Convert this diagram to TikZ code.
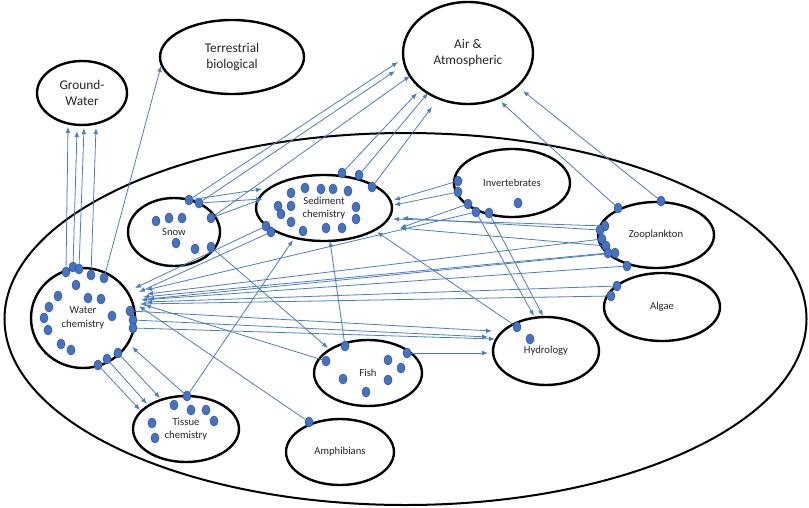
\documentclass[tikz,border=0pt]{standalone}
\usepackage{fontspec}
\setmainfont{Carlito}
\usetikzlibrary{shapes.geometric,arrows.meta}
\definecolor{linkblue}{RGB}{74,126,193}
\definecolor{dotblue}{RGB}{68,114,196}
\definecolor{dotedge}{RGB}{47,85,151}

\begin{document}
\begin{tikzpicture}[x=0.75pt, y=-0.75pt,
  blob/.style={ellipse, draw=black, line width=1.8pt, inner sep=0pt, align=center, text=black!85},
  big/.style={blob, font=\fontsize{10}{12.5}\selectfont},
  small/.style={blob, font=\fontsize{8}{10}\selectfont},
  dot/.style={ellipse, fill=dotblue, draw=dotedge, line width=0.4pt, minimum width=6pt, minimum height=7.5pt, inner sep=0pt},
  link/.style={draw=linkblue, line width=0.6pt, -{Latex[length=4.5pt,width=3.5pt]}}]

  \useasboundingbox (0,0) rectangle (809,507);

  % outside compartments
  \node [big, minimum width=67.5pt, minimum height=48pt] (gw) at (82,93) {Ground-\\Water};
  \node [big, minimum width=108pt, minimum height=55.5pt] (terr) at (232,57) {Terrestrial\\biological};
  \node [big, minimum width=97.5pt, minimum height=76.5pt] (air) at (468,53) {Air \&\\Atmospheric};

  % the lake
  \node [blob, line width=1.5pt, minimum width=601.5pt, minimum height=279pt] (lake) at (405.5,319) {};

  \node [small, minimum width=69pt, minimum height=51pt] (snow) at (174,232) {Snow};
  \node [small, minimum width=102pt, minimum height=49.5pt] (sed) at (324,208) {Sediment\\chemistry};
  \node [small, minimum width=87pt, minimum height=51pt] (inv) at (512,183) {Invertebrates};
  \node [small, minimum width=87pt, minimum height=49.5pt] (zoo) at (656,235) {Zooplankton};
  \node [small, minimum width=87pt, minimum height=51pt] (alg) at (662,307) {Algae};
  \node [small, minimum width=79.5pt, minimum height=51pt] (hyd) at (546,351) {Hydrology};
  \node [small, minimum width=81pt, minimum height=49.5pt] (fish) at (368,373) {Fish};
  \node [small, minimum width=78pt, minimum height=75pt] (wc) at (83,318) {Water\\chemistry};
  \node [small, minimum width=79.5pt, minimum height=49.5pt] (tis) at (186,429) {Tissue\\chemistry};
  \node [small, minimum width=81pt, minimum height=49.5pt] (amph) at (340,452) {Amphibians};

  % sampling points
  \node [dot] (wa1) at (66,272) {};
  \node [dot] (wa2) at (73,267) {};
  \node [dot] (wa3) at (79,269) {};
  \node [dot] (wa4) at (91,275) {};
  \node [dot] (wa5) at (104,278) {};
  \node [dot] (wr1) at (130,311) {};
  \node [dot] (wr2) at (133,320) {};
  \node [dot] (wr3) at (133,328) {};
  \node [dot] (wb1) at (118,353) {};
  \node [dot] (wb2) at (107,359) {};
  \node [dot] (wb3) at (98,365) {};
  \foreach \p [count=\i] in {(76,285),(58,296),(88,298),(101,299),(49,307),(44,318),(112,316),(48,330),(61,344),(71,350)}
    \node [dot] (wd\i) at \p {};

  \node [dot] (sn1) at (189,200) {};
  \node [dot] (sn2) at (199,203) {};
  \node [dot] (sn3) at (211,218) {};
  \node [dot] (sn4) at (211,247) {};
  \foreach \p [count=\i] in {(156,221),(169,218),(182,218),(176,243),(195,249)}
    \node [dot] (snd\i) at \p {};

  \node [dot] (se1) at (342,173) {};
  \node [dot] (se2) at (359,175) {};
  \node [dot] (se3) at (372,187) {};
  \node [dot] (se4) at (266,226) {};
  \node [dot] (se5) at (271,232) {};
  \foreach \p [count=\i] in {(291,193),(305,188),(321,189),(333,189),(348,191),(278,206),(291,206),(281,214),(356,207),(356,219),(291,222),(303,231),(326,228),(342,228)}
    \node [dot] (sed\i) at \p {};

  \node [dot] (iv1) at (458,181) {};
  \node [dot] (iv2) at (458,192) {};
  \node [dot] (iv3) at (468,204) {};
  \node [dot] (iv4) at (476,212) {};
  \node [dot] (iv5) at (489,213) {};
  \node [dot] (ivd1) at (518,203) {};

  \node [dot] (zo1) at (618,208) {};
  \node [dot] (zo2) at (661,201) {};
  \node [dot] (zo3) at (605,226) {};
  \node [dot] (zo4) at (600,230) {};
  \node [dot] (zo5) at (602,239) {};
  \node [dot] (zo6) at (606,246) {};
  \node [dot] (zo7) at (608,253) {};
  \node [dot] (zo8) at (615,253) {};
  \node [dot] (zo9) at (627,266) {};

  \node [dot] (al1) at (617,286) {};
  \node [dot] (al2) at (611,296) {};

  \node [dot] (hy1) at (517,327) {};
  \node [dot] (hyd1) at (530,339) {};

  \node [dot] (fi1) at (345,346) {};
  \node [dot] (fi2) at (326,361) {};
  \node [dot] (fi3) at (407,353) {};
  \foreach \p [count=\i] in {(388,360),(401,368),(343,379),(388,380),(366,392)}
    \node [dot] (fid\i) at \p {};

  \node [dot] (ti1) at (187,396) {};
  \foreach \p [count=\i] in {(174,405),(191,410),(206,410),(214,421),(152,423),(155,438)}
    \node [dot] (tid\i) at \p {};

  \node [dot] (am1) at (309,422) {};

  % arrow ends
  \coordinate (g1) at (68,127);
  \coordinate (g2) at (77,131);
  \coordinate (g3) at (84,128);
  \coordinate (g4) at (96,128);
  \coordinate (t1) at (161,66);
  \coordinate (a1) at (398,62);
  \coordinate (a2) at (395,71);
  \coordinate (a3) at (410,76);
  \coordinate (a4) at (417,93);
  \coordinate (a5) at (428,93);
  \coordinate (a6) at (432,107);
  \coordinate (a7) at (501,102);
  \coordinate (a8) at (523,91);
  \coordinate (s1) at (262,189);
  \coordinate (s2) at (262,199);
  \coordinate (s3) at (394,200);
  \coordinate (s4) at (394,205);
  \coordinate (s5) at (393,219);
  \coordinate (s6) at (402,218);
  \coordinate (s7) at (400,228);
  \coordinate (s8) at (377,232);
  \coordinate (s9) at (330,241);
  \coordinate (s10) at (293,240);
  \coordinate (w1) at (135,288);
  \coordinate (w2) at (139,292);
  \coordinate (w3) at (146,290);
  \coordinate (w4) at (147,294);
  \coordinate (w5) at (143,297);
  \coordinate (w6) at (148,299);
  \coordinate (w7) at (141,300);
  \coordinate (w8) at (146,302);
  \coordinate (w9) at (140,304);
  \coordinate (w10) at (145,305);
  \coordinate (w11) at (139,306);
  \coordinate (w12) at (132,347);
  \coordinate (h1) at (492,331);
  \coordinate (h2) at (488,337);
  \coordinate (h3) at (495,339);
  \coordinate (h4) at (488,353);
  \coordinate (h5) at (534,316);
  \coordinate (h6) at (543,316);
  \coordinate (f1) at (328,348);
  \coordinate (x1) at (140,410);
  \coordinate (x2) at (147,404);
  \coordinate (x3) at (160,398);

  \draw [link] (wa1) -- (g1);
  \draw [link] (wa2) -- (g2);
  \draw [link] (wa3) -- (g3);
  \draw [link] (wa4) -- (g4);
  \draw [link] (wa5) -- (t1);

  \draw [link] (sn1) -- (a1);
  \draw [link] (sn2) -- (a2);
  \draw [link] (sn3) -- (a3);
  \draw [link] (se1) -- (a4);
  \draw [link] (se2) -- (a5);
  \draw [link] (se3) -- (a6);
  \draw [link] (zo1) -- (a7);
  \draw [link] (zo2) -- (a8);

  \draw [link] (sn1) -- (s1);
  \draw [link] (sn2) -- (s2);
  \draw [link] (sn3) -- (s2);
  \draw [link] (iv1) -- (s3);
  \draw [link] (iv2) -- (s4);
  \draw [link] (zo3) -- (s5);
  \draw [link] (zo4) -- (s6);
  \draw [link] (iv3) -- (s7);
  \draw [link] (zo6) -- (s7);
  \draw [link] (hy1) -- (s8);
  \draw [link] (fi1) -- (s9);
  \draw [link] (ti1) -- (s10);

  \draw [link] (se4) -- (w1);
  \draw [link] (se5) -- (w2);
  \draw [link] (iv4) -- (w3);
  \draw [link] (zo5) -- (w4);
  \draw [link] (zo7) -- (w5);
  \draw [link] (zo8) -- (w6);
  \draw [link] (zo9) -- (w7);
  \draw [link] (al1) -- (w8);
  \draw [link] (al2) -- (w9);
  \draw [link] (fi2) -- (w10);
  \draw [link] (am1) -- (w11);
  \draw [link] (ti1) -- (w12);

  \draw [link] (wr1) -- (h1);
  \draw [link] (wr2) -- (h2);
  \draw [link] (wr3) -- (h3);
  \draw [link] (fi3) -- (h4);
  \draw [link] (iv4) -- (h5);
  \draw [link] (iv5) -- (h6);

  \draw [link] (sn4) -- (f1);

  \draw [link] (wb1) -- (x3);
  \draw [link] (wb2) -- (x2);
  \draw [link] (wb3) -- (x1);

\end{tikzpicture}
\end{document}
